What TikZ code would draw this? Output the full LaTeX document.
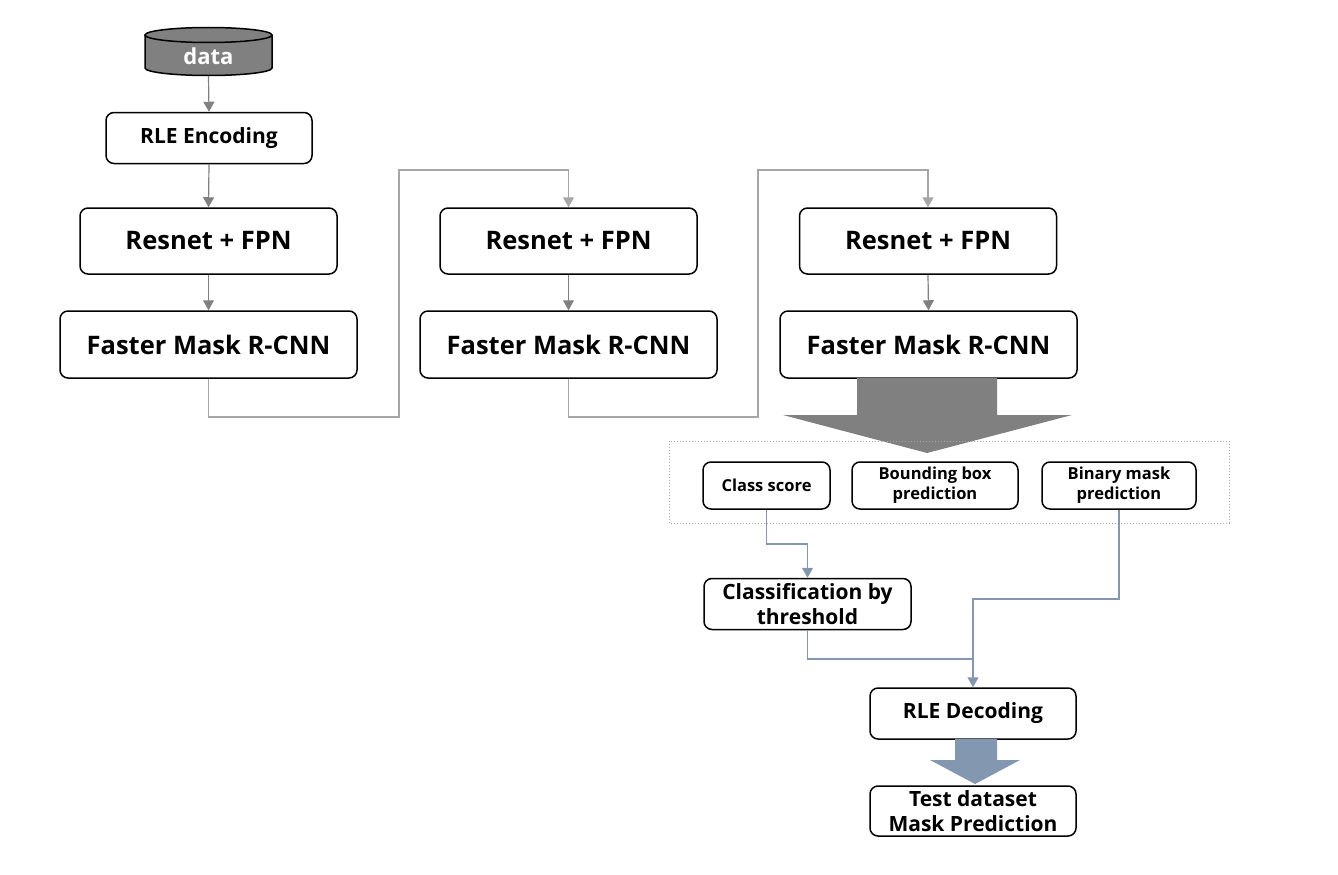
\documentclass[tikz,border=0pt]{standalone}
\usepackage{fontspec}
\setmainfont{Open Sans}
\usetikzlibrary{arrows.meta}
\definecolor{arrgray}{HTML}{808080}
\definecolor{lgray}{HTML}{A6A6A6}
\definecolor{bgray}{HTML}{8497B0}
\tikzset{
  box/.style={draw=black, line width=1.5pt, rounded corners=8pt, align=center, font=\bfseries, inner sep=0pt},
  big/.style={box, minimum width=257pt, minimum height=66pt, font=\bfseries\fontsize{25.5}{28}\selectfont},
  wide/.style={box, minimum width=297pt, minimum height=67pt, font=\bfseries\fontsize{25.5}{28}\selectfont},
  mid/.style={box, minimum width=206pt, minimum height=51pt, font=\bfseries\fontsize{21}{24.5}\selectfont},
  small/.style={box, minimum height=47pt, font=\bfseries\fontsize{16.5}{20}\selectfont},
  garr/.style={draw=arrgray, line width=1.2pt, -{Triangle[width=11pt,length=10pt]}},
  larr/.style={draw=lgray, line width=1.2pt, -{Triangle[width=11pt,length=10pt]}},
  barr/.style={draw=bgray, line width=1.2pt, -{Triangle[width=11pt,length=10pt]}},
  bline/.style={draw=bgray, line width=1.2pt},
}
\begin{document}
\begin{tikzpicture}[x=1pt,y=-1pt]
\useasboundingbox (0,0) rectangle (1338,875);
% cylinder
\fill[arrgray] (145,35) -- (145,68) arc[start angle=180,end angle=0,x radius=63.5,y radius=7.5] -- (272,35) arc[start angle=0,end angle=-180,x radius=63.5,y radius=7.5] -- cycle;
\draw[black,line width=1.5pt] (145,35) -- (145,68) arc[start angle=180,end angle=0,x radius=63.5,y radius=7.5] -- (272,35);
\draw[black,line width=1.5pt,fill=arrgray] (208.5,35) ellipse[x radius=63.5,y radius=7.5];
\node[font=\bfseries\fontsize{22}{24}\selectfont, text=white, minimum width=127pt, minimum height=30pt, inner sep=0pt] (data) at (208.5,56) {data};
\coordinate (dataB) at (208.5,76);

\node[mid] (rle) at (209,138) {RLE Encoding};
\node[big] (r1) at (208.5,241) {Resnet + FPN};
\node[wide] (f1) at (208.5,344.5) {Faster Mask R-CNN};
\node[big] (r2) at (568.5,241) {Resnet + FPN};
\node[wide] (f2) at (568.5,344.5) {Faster Mask R-CNN};
\node[big] (r3) at (928,241) {Resnet + FPN};
\node[wide] (f3) at (928.5,344.5) {Faster Mask R-CNN};

\draw[garr] (dataB) -- (rle.north);
\draw[garr] (rle.south) -- (r1.north);
\draw[garr] (r1.south) -- (f1.north);
\draw[garr] (r2.south) -- (f2.north);
\draw[garr] (r3.south) -- (f3.north);

\draw[larr] (f1.south) -- (208.5,417) -- (399,417) -- (399,170) -- (568.5,170) -- (r2.north);
\draw[larr] (f2.south) -- (568.5,417) -- (758,417) -- (758,170) -- (928,170) -- (r3.north);

% big gray arrow
\fill[arrgray] (857,378) -- (997,378) -- (997,415) -- (1072,415) -- (927,453) -- (783,415) -- (857,415) -- cycle;

% dotted group
\draw[lgray, line width=1pt, dotted] (669,441) rectangle (1229,523);
\node[small, minimum width=127pt] (cs) at (766.5,485.5) {Class score};
\node[small, minimum width=166pt] (bb) at (935,485.5) {Bounding box\\prediction};
\node[small, minimum width=154pt] (bm) at (1119,485.5) {Binary mask\\prediction};

\node[mid, minimum width=207pt] (cl) at (807.5,604) {Classification by\\threshold};
\node[mid] (dec) at (973,713.5) {RLE Decoding};
\node[mid, minimum height=50pt] (test) at (973,811) {Test dataset\\Mask Prediction};

\draw[barr] (cs.south) -- (766.5,544) -- (807.5,544) -- (cl.north);
\draw[barr] (bm.south) -- (1119,599) -- (973,599) -- (dec.north);
\draw[bline] (cl.south) -- (807.5,659) -- (973,659);

% big blue arrow
\fill[bgray] (955,739) -- (997,739) -- (997,760) -- (1020,760) -- (975,784) -- (930,760) -- (955,760) -- cycle;
\end{tikzpicture}
\end{document}
